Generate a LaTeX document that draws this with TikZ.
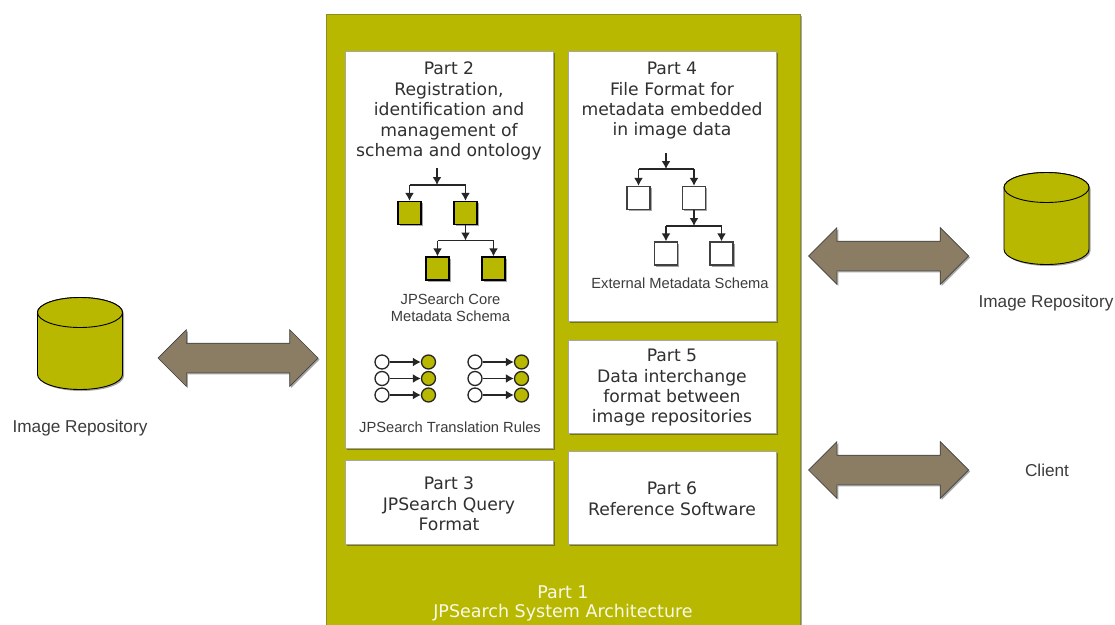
\documentclass[tikz,border=0pt]{standalone}
\usepackage{fontspec}
\setmainfont{DejaVu Sans}
\newfontfamily\lblfont{Liberation Sans}
\usetikzlibrary{arrows.meta,shadows,shapes.arrows,positioning}
\definecolor{olive}{HTML}{B8B800}
\definecolor{panelline}{HTML}{8C8C20}
\definecolor{arrowfill}{HTML}{8A7D64}
\definecolor{txt}{HTML}{303030}
\definecolor{lbl}{HTML}{3C3C3C}
\tikzset{
  x=1pt,y=-1pt,
  softshadow/.style={drop shadow={shadow xshift=1.5pt,shadow yshift=-1.5pt,opacity=.35,fill=black}},
  partbox/.style={draw=black!35,line width=.6pt,fill=white,softshadow},
  parttext/.style={font=\fontsize{17.2}{20.4}\selectfont,text=txt,align=center,inner sep=0pt,anchor=north},
  maplabel/.style={font=\lblfont\fontsize{17.2}{17}\selectfont,text=lbl,align=center,inner sep=0pt},
  smalllabel/.style={font=\lblfont\fontsize{14.7}{17}\selectfont,text=lbl,align=center,inner sep=0pt},
  solidsq/.style={draw=black,line width=1.3pt,fill=olive,minimum size=23pt,inner sep=0pt,softshadow},
  emptysq/.style={draw=black!75,line width=1.3pt,fill=white,minimum size=23pt,inner sep=0pt,softshadow},
  wirearrow/.style={draw=black!85,line width=1.5pt,-{Latex[length=8pt,width=9pt]}},
  wire/.style={draw=black!85,line width=1.5pt},
  whitedot/.style={circle,draw=black!85,line width=1.3pt,fill=white,minimum size=14pt,inner sep=0pt},
  olivedot/.style={circle,draw=black!85,line width=1.3pt,fill=olive,minimum size=14pt,inner sep=0pt},
  bigarrow/.style={shape=double arrow,draw=black!75,line width=.7pt,fill=arrowfill,
    double arrow tip angle=90,double arrow head extend=13.5pt,
    minimum height=160pt,minimum width=56pt,inner xsep=0pt,inner ysep=14.5pt,softshadow},
  pics/repo/.style={code={
    \path[fill=olive,draw=black,line width=.9pt,softshadow] (-42.5,-31) -- (-42.5,31) arc[start angle=180,end angle=0,x radius=42.5,y radius=15] -- (42.5,-31) arc[start angle=0,end angle=-180,x radius=42.5,y radius=15] -- cycle;
    \draw[black,line width=.9pt,fill=olive] (0,-31) circle[x radius=42.5,y radius=15];
  }},
}
\begin{document}
\begin{tikzpicture}
\useasboundingbox (0,0) rectangle (1115,624);
\clip (0,0) rectangle (1115,624);
\fill[white] (0,0) rectangle (1115,624);
% main panel
\path[draw=panelline,line width=1pt,fill=olive,softshadow] (326,14) rectangle (800,650);
\node[font=\fontsize{17.5}{19}\selectfont,text=white!92!olive,align=center,inner sep=0pt,anchor=north] (part1) at (563,586) {Part 1\\JPSearch System Architecture};
% boxes
\node[partbox,minimum width=208pt,minimum height=397pt,inner sep=0pt] (p2) at (449,249.5) {};
\node[partbox,minimum width=208pt,minimum height=270pt,inner sep=0pt] (p4) at (672,186) {};
\node[partbox,minimum width=208pt,minimum height=93pt,inner sep=0pt] (p5) at (672,386.5) {};
\node[partbox,minimum width=208pt,minimum height=84pt,inner sep=0pt] (p3) at (449,502) {};
\node[partbox,minimum width=208pt,minimum height=93pt,inner sep=0pt] (p6) at (672,497.5) {};
\node[parttext] (t2) at (449,62) {Part 2\\Registration,\\identification and\\management of\\schema and ontology};
\node[parttext] (t4) at (672,62) {Part 4\\File Format for\\metadata embedded\\in image data};
\node[parttext] (t5) at (672,349) {Part 5\\Data interchange\\format between\\image repositories};
\node[parttext] (t3) at (449,477) {Part 3\\JPSearch Query\\Format};
\node[parttext] (t6) at (672,482) {Part 6\\Reference Software};
% tree, part 2
\node[solidsq] (a1) at (409.5,213) {};
\node[solidsq] (a2) at (465.5,213) {};
\node[solidsq] (a3) at (437.5,268.5) {};
\node[solidsq] (a4) at (493.5,268.5) {};
\coordinate (ain) at (437,168);
\coordinate (abar) at (437,185);
\coordinate (abar2) at (465.5,240.5);
\draw[wirearrow] (ain) -- (abar);
\draw[wire] (abar -| a1) -- (abar -| a2);
\draw[wirearrow] (abar -| a1) -- (a1.north);
\draw[wirearrow] (abar -| a2) -- (a2.north);
\draw[wirearrow] (a2.south) -- (abar2);
\draw[wire] (abar2 -| a3) -- (abar2 -| a4);
\draw[wirearrow] (abar2 -| a3) -- (a3.north);
\draw[wirearrow] (abar2 -| a4) -- (a4.north);
\node[smalllabel] (core) at (450.5,308) {JPSearch Core\\Metadata Schema};
% translation rules
\foreach \i/\yy in {1/362,2/378.5,3/395}{
  \node[whitedot] (wa\i) at (382,\yy) {};
  \node[olivedot] (oa\i) at (428.5,\yy) {};
  \draw[wirearrow] (wa\i) -- (oa\i);
  \node[whitedot] (wb\i) at (475,\yy) {};
  \node[olivedot] (ob\i) at (521.5,\yy) {};
  \draw[wirearrow] (wb\i) -- (ob\i);
}
\node[smalllabel] (rules) at (450,427) {JPSearch Translation Rules};
% tree, part 4
\node[emptysq] (b1) at (638.5,198) {};
\node[emptysq] (b2) at (694,198) {};
\node[emptysq] (b3) at (666,253.5) {};
\node[emptysq] (b4) at (721.5,253.5) {};
\coordinate (bin) at (666,153);
\coordinate (bbar) at (666,169);
\coordinate (bbar2) at (694,226);
\draw[wirearrow] (bin) -- (bbar);
\draw[wire] (bbar -| b1) -- (bbar -| b2);
\draw[wirearrow] (bbar -| b1) -- (b1.north);
\draw[wirearrow] (bbar -| b2) -- (b2.north);
\draw[wirearrow] (b2.south) -- (bbar2);
\draw[wire] (bbar2 -| b3) -- (bbar2 -| b4);
\draw[wirearrow] (bbar2 -| b3) -- (b3.north);
\draw[wirearrow] (bbar2 -| b4) -- (b4.north);
\node[smalllabel] (ext) at (680,283) {External Metadata Schema};
% repositories
\pic at (80,343.5) {repo};
\pic at (1046.5,218.5) {repo};
\node[maplabel] (leftrepo) at (80,428) {Image Repository};
\node[maplabel] (rightrepo) at (1046,303) {Image Repository};
\node[maplabel] (client) at (1047,470) {Client};
% big arrows
\node[bigarrow] (arrowl) at (238,358) {};
\node[bigarrow] (arrowr1) at (888.5,256) {};
\node[bigarrow] (arrowr2) at (888.5,470) {};
\end{tikzpicture}
\end{document}
